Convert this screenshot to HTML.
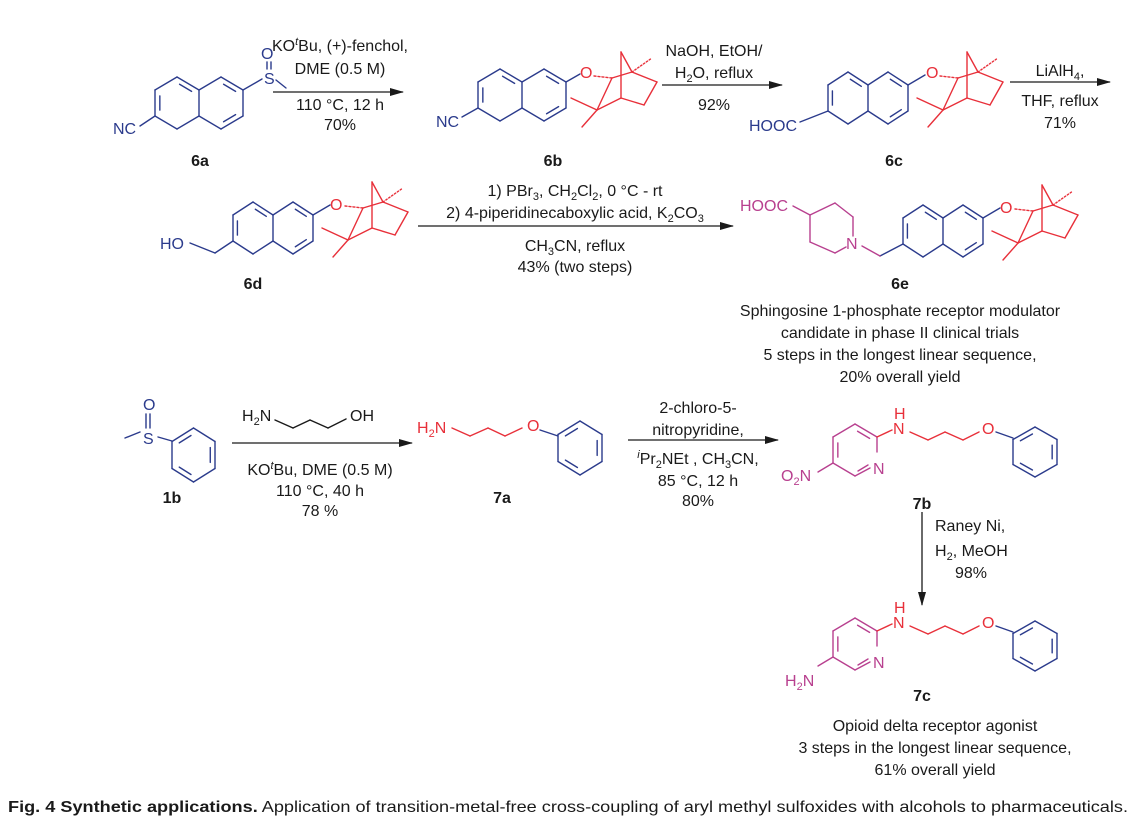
<!DOCTYPE html>
<html><head><meta charset="utf-8"><style>
html,body{margin:0;padding:0;background:#fff;}
svg{display:block;}
text{font-family:"Liberation Sans",sans-serif;font-size:16px;fill:#1a1a1a;}
.c{text-anchor:middle;}
.b{font-weight:bold;}
.bl{fill:#2b3b8c;}
.rd{fill:#e8303a;}
.mg{fill:#b8408f;}
</style></head><body>
<svg id="s" width="1140" height="828" viewBox="0 0 1140 828" xmlns="http://www.w3.org/2000/svg">
<defs><marker id="ah" markerWidth="14" markerHeight="8" refX="13" refY="4" orient="auto" markerUnits="userSpaceOnUse"><path d="M0,0 L14,4 L0,8 z" fill="#1a1a1a"/></marker></defs>
<g id="bonds" fill="none" stroke-width="1.4" stroke-linecap="round"></g>
<g stroke="#1a1a1a" stroke-width="1.3">
<line x1="273" y1="92" x2="403" y2="92" marker-end="url(#ah)"/>
<line x1="662" y1="85" x2="782" y2="85" marker-end="url(#ah)"/>
<line x1="1010" y1="82" x2="1110" y2="82" marker-end="url(#ah)"/>
<line x1="418" y1="226" x2="733" y2="226" marker-end="url(#ah)"/>
<line x1="232" y1="443" x2="412" y2="443" marker-end="url(#ah)"/>
<line x1="628" y1="440" x2="778" y2="440" marker-end="url(#ah)"/>
<line x1="922" y1="512" x2="922" y2="605" marker-end="url(#ah)"/>
</g>
<text class="c" x="340" y="51">KO<tspan font-style="italic" dy="-6" font-size="11">t</tspan><tspan dy="6">Bu, (+)-fenchol,</tspan></text>
<text class="c" x="340" y="74">DME (0.5 M)</text>
<text class="c" x="340" y="110">110 °C, 12 h</text>
<text class="c" x="340" y="130">70%</text>
<text class="c" x="714" y="56">NaOH, EtOH/</text>
<text class="c" x="714" y="78">H<tspan font-size="11" dy="4">2</tspan><tspan dy="-4">O, reflux</tspan></text>
<text class="c" x="714" y="110">92%</text>
<text class="c" x="1060" y="76">LiAlH<tspan font-size="11" dy="4">4</tspan><tspan dy="-4">,</tspan></text>
<text class="c" x="1060" y="106">THF, reflux</text>
<text class="c" x="1060" y="128">71%</text>
<text class="c b" x="200" y="166">6a</text>
<text class="c b" x="553" y="166">6b</text>
<text class="c b" x="894" y="166">6c</text>
<text class="bl" x="113" y="134">NC</text>
<text class="bl" x="264" y="84">S</text>
<text class="bl" x="261" y="59">O</text>
<text class="bl" x="436" y="127">NC</text>
<text class="bl" x="749" y="131">HOOC</text>
<text class="rd" x="580" y="78">O</text>
<text class="rd" x="926" y="78">O</text>
<text class="c" x="575" y="196">1) PBr<tspan font-size="11" dy="4">3</tspan><tspan dy="-4">, CH</tspan><tspan font-size="11" dy="4">2</tspan><tspan dy="-4">Cl</tspan><tspan font-size="11" dy="4">2</tspan><tspan dy="-4">, 0 °C - rt</tspan></text>
<text class="c" x="575" y="218">2) 4-piperidinecaboxylic acid, K<tspan font-size="11" dy="4">2</tspan><tspan dy="-4">CO</tspan><tspan font-size="11" dy="4">3</tspan></text>
<text class="c" x="575" y="251">CH<tspan font-size="11" dy="4">3</tspan><tspan dy="-4">CN, reflux</tspan></text>
<text class="c" x="575" y="272">43% (two steps)</text>
<text class="c b" x="253" y="289">6d</text>
<text class="c b" x="900" y="289">6e</text>
<text class="bl" x="160" y="249">HO</text>
<text class="rd" x="330" y="210">O</text>
<text class="mg" x="740" y="211">HOOC</text>
<text class="mg" x="846" y="249">N</text>
<text class="rd" x="1000" y="213">O</text>
<text class="c" x="900" y="316">Sphingosine 1-phosphate receptor modulator</text>
<text class="c" x="900" y="338">candidate in phase II clinical trials</text>
<text class="c" x="900" y="360">5 steps in the longest linear sequence,</text>
<text class="c" x="900" y="382">20% overall yield</text>
<text class="bl" x="143" y="444">S</text>
<text class="bl" x="143" y="410">O</text>
<text x="242" y="421">H<tspan font-size="11" dy="4">2</tspan><tspan dy="-4">N</tspan></text>
<text x="350" y="421">OH</text>
<text class="c" x="320" y="475">KO<tspan font-style="italic" dy="-6" font-size="11">t</tspan><tspan dy="6">Bu, DME (0.5 M)</tspan></text>
<text class="c" x="320" y="496">110 °C, 40 h</text>
<text class="c" x="320" y="516">78 %</text>
<text class="c b" x="172" y="503">1b</text>
<text class="rd" x="417" y="433">H<tspan font-size="11" dy="4">2</tspan><tspan dy="-4">N</tspan></text>
<text class="rd" x="527" y="431">O</text>
<text class="c b" x="502" y="503">7a</text>
<text class="c" x="698" y="413">2-chloro-5-</text>
<text class="c" x="698" y="435">nitropyridine,</text>
<text class="c" x="698" y="464"><tspan font-style="italic" dy="-6" font-size="11">i</tspan><tspan dy="6">Pr</tspan><tspan font-size="11" dy="4">2</tspan><tspan dy="-4">NEt , CH</tspan><tspan font-size="11" dy="4">3</tspan><tspan dy="-4">CN,</tspan></text>
<text class="c" x="698" y="486">85 °C, 12 h</text>
<text class="c" x="698" y="506">80%</text>
<text class="rd" x="894" y="419">H</text>
<text class="rd" x="893" y="434">N</text>
<text class="rd" x="982" y="434">O</text>
<text class="mg" x="873" y="474">N</text>
<text class="mg" x="781" y="481">O<tspan font-size="11" dy="4">2</tspan><tspan dy="-4">N</tspan></text>
<text class="c b" x="922" y="509">7b</text>
<text x="935" y="531">Raney Ni,</text>
<text x="935" y="556">H<tspan font-size="11" dy="4">2</tspan><tspan dy="-4">, MeOH</tspan></text>
<text x="955" y="578">98%</text>
<text class="rd" x="894" y="613">H</text>
<text class="rd" x="893" y="628">N</text>
<text class="rd" x="982" y="628">O</text>
<text class="mg" x="873" y="668">N</text>
<text class="mg" x="785" y="686">H<tspan font-size="11" dy="4">2</tspan><tspan dy="-4">N</tspan></text>
<text class="c b" x="922" y="701">7c</text>
<text class="c" x="935" y="731">Opioid delta receptor agonist</text>
<text class="c" x="935" y="753">3 steps in the longest linear sequence,</text>
<text class="c" x="935" y="775">61% overall yield</text>
<text x="8" y="812" textLength="1120" lengthAdjust="spacingAndGlyphs"><tspan font-weight="bold">Fig. 4 Synthetic applications.</tspan> Application of transition-metal-free cross-coupling of aryl methyl sulfoxides with alcohols to pharmaceuticals.</text>
</svg>
<script>
var g=document.getElementById('bonds'),NS='http://www.w3.org/2000/svg';
var BL='#2b3b8c',RD='#e8303a',MG='#b8408f',BK='#1a1a1a';
function L(x1,y1,x2,y2,c,d){var l=document.createElementNS(NS,'line');l.setAttribute('x1',x1);l.setAttribute('y1',y1);l.setAttribute('x2',x2);l.setAttribute('y2',y2);l.setAttribute('stroke',c);if(d)l.setAttribute('stroke-dasharray',d);g.appendChild(l);}
function hexv(cx,cy,hw,h){return [[cx,cy-h],[cx+hw,cy-h/2],[cx+hw,cy+h/2],[cx,cy+h],[cx-hw,cy+h/2],[cx-hw,cy-h/2]];}
function ring(cx,cy,hw,h,c,inner,skip){var v=hexv(cx,cy,hw,h);for(var i=0;i<6;i++){if(skip&&skip.indexOf(i)>=0)continue;var a=v[i],b=v[(i+1)%6];L(a[0],a[1],b[0],b[1],c);}
(inner||[]).forEach(function(i){var a=v[i],b=v[(i+1)%6],f=0.78;var ax=cx+(a[0]-cx)*f,ay=cy+(a[1]-cy)*f,bx=cx+(b[0]-cx)*f,by=cy+(b[1]-cy)*f;var t=0.15;L(ax+(bx-ax)*t,ay+(by-ay)*t,bx-(bx-ax)*t,by-(by-ay)*t,c);});return v;}
function naph(x0,y0,c,hw,h){hw=hw||20;h=h||26;ring(x0,y0,hw,h,c,[0,4]);ring(x0+2*hw,y0,hw,h,c,[0,2],[4]);}
function fen(ox,oy,c){var P=function(dx,dy){return [ox+dx,oy+dy];};
var O=P(7,4),C2=P(25,6),AP=P(34,-20),R=P(45,0),ME=P(65,-14),R6=P(70,10),LR=P(57,33),BB=P(34,26),C3=P(10,38),M1=P(-16,26),M2=P(-5,55);
L(O[0],O[1],C2[0],C2[1],c,'2,2');
[[C2,R],[R,AP],[AP,BB],[R,R6],[R6,LR],[LR,BB],[BB,C3],[C3,C2],[C3,M1],[C3,M2]].forEach(function(p){L(p[0][0],p[0][1],p[1][0],p[1][1],c);});
L(R[0],R[1],ME[0],ME[1],c,'1.5,2');}
// 6a
naph(177,103,BL,22,26); L(155,116,140,126,BL); L(243,90,262,79,BL); L(276,80,286,88,BL);
L(267,62,267,69,BL);L(271,62,271,69,BL);
// 6b
naph(500,95,BL,22,26); L(478,108,462,117,BL); L(566,82,580,74,BL); fen(587,72,RD);
// 6c
naph(848,98,BL); L(828,111,800,122,BL); L(908,85,925,75,BL); fen(933,72,RD);
// 6d
naph(253,228,BL); L(233,241,215,253,BL); L(215,253,190,243,BL); L(313,215,330,205,BL); fen(338,202,RD);
// 6e
naph(923,231,BL); L(903,244,880,256,BL); L(880,256,862,246,MG); L(983,218,1000,208,BL); fen(1008,205,RD);
L(853,236,853,217,MG);L(853,217,835,203,MG);L(835,203,810,215,MG);L(810,215,810,242,MG);L(810,242,835,253,MG);L(835,253,846,247,MG);L(810,215,793,206,MG);
// 1b
ring(193.5,455,21.5,27,BL,[1,3,5]); L(158,437,172,441,BL); L(125,438,140,432,BL); L(146,414,146,428,BL); L(150,414,150,428,BL);
L(275,420,293,428,BK);L(293,428,310,420,BK);L(310,420,328,428,BK);L(328,428,346,419,BK);
// 7a
L(452,428,470,436,RD);L(470,436,488,428,RD);L(488,428,505,436,RD);L(505,436,522,428,RD);L(540,430,558,436,BL);
ring(580,448,22,27,BL,[1,3,5]);
function pyr(dy){ring(855,450+dy,22,26,MG,[0,4],[1,2]);
L(877,437+dy,877,452+dy,MG);L(855,476+dy,870,468+dy,MG);L(858,471+dy,868,465+dy,MG);
L(877,437+dy,892,430+dy,RD); L(833,463+dy,818,472+dy,MG);
L(910,432+dy,928,440+dy,RD);L(928,440+dy,945,432+dy,RD);L(945,432+dy,963,440+dy,RD);L(963,440+dy,979,432+dy,RD);L(996,432+dy,1013,438+dy,BL);
ring(1035,452+dy,22,25,BL,[1,3,5]);}
pyr(0);pyr(194);
</script>
</body></html>
